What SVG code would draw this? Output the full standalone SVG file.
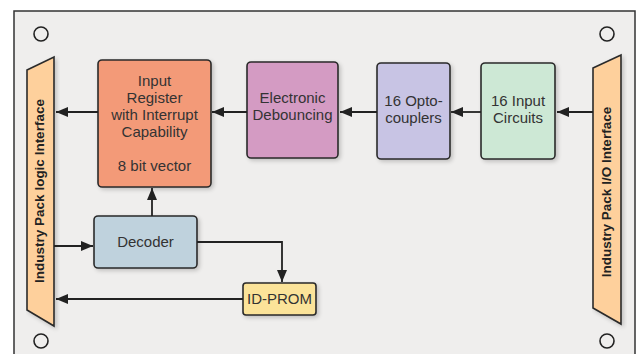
<svg xmlns="http://www.w3.org/2000/svg" width="640" height="354" viewBox="0 0 640 354">
<defs>
<marker id="ah" markerWidth="12" markerHeight="10" refX="12" refY="5" orient="auto" markerUnits="userSpaceOnUse">
<path d="M0,0 L12,5 L0,10 Z" fill="#222"/>
</marker>
<filter id="sh" x="-10%" y="-10%" width="130%" height="130%">
<feGaussianBlur in="SourceAlpha" stdDeviation="2"/>
<feOffset dx="2" dy="2"/>
<feComponentTransfer><feFuncA type="linear" slope="0.2"/></feComponentTransfer>
<feMerge><feMergeNode/><feMergeNode in="SourceGraphic"/></feMerge>
</filter>
</defs>
<style>
.box{stroke:#2a2a2a;stroke-width:1.6;filter:url(#sh)}
.t{font-family:"Liberation Sans",Arial,sans-serif;font-size:15px;fill:#333;text-anchor:middle}
.tb{font-family:"Liberation Sans",Arial,sans-serif;font-size:13.5px;font-weight:bold;fill:#222;text-anchor:middle}
.c{stroke:#222;stroke-width:1.8;fill:none;marker-end:url(#ah)}
.hole{fill:none;stroke:#222;stroke-width:1.6}
</style>
<rect x="0" y="0" width="640" height="354" fill="#ffffff"/>
<g id="board">
<rect x="14" y="11" width="621" height="350" fill="#efeeed" stroke="#333" stroke-width="1.5"/>
<circle class="hole" cx="41" cy="34" r="7"/>
<circle class="hole" cx="607" cy="34" r="7"/>
<circle class="hole" cx="41" cy="341" r="7"/>
<circle class="hole" cx="607" cy="341" r="7"/>
</g>
<g id="logic-interface">
<polygon class="box" points="27,70 54,57 54,326 27,310" fill="#fed09c"/>
<text class="tb" transform="translate(44,191) rotate(-90)">Industry Pack logic Interface</text>
</g>
<g id="io-interface">
<polygon class="box" points="593,68 621,55 621,324 593,308" fill="#fed09c"/>
<text class="tb" transform="translate(611,192) rotate(-90)">Industry Pack I/O Interface</text>
</g>
<g id="input-register">
<rect class="box" x="98" y="60" width="113" height="127" rx="4" fill="#f39a78"/>
<text class="t" x="154.5" y="86">Input</text>
<text class="t" x="154.5" y="103">Register</text>
<text class="t" x="154.5" y="120">with Interrupt</text>
<text class="t" x="154.5" y="137">Capability</text>
<text class="t" x="154.5" y="171">8 bit vector</text>
</g>
<g id="debouncing">
<rect class="box" x="247" y="62" width="91" height="96" rx="4" fill="#d49bc3"/>
<text class="t" x="292.5" y="103">Electronic</text>
<text class="t" x="292.5" y="120">Debouncing</text>
</g>
<g id="optocouplers">
<rect class="box" x="377" y="63" width="73" height="96" rx="4" fill="#c8c4e4"/>
<text class="t" x="413.5" y="106">16 Opto-</text>
<text class="t" x="413.5" y="123">couplers</text>
</g>
<g id="input-circuits">
<rect class="box" x="481" y="63" width="74" height="96" rx="4" fill="#cde8d5"/>
<text class="t" x="518" y="106">16 Input</text>
<text class="t" x="518" y="123">Circuits</text>
</g>
<g id="decoder">
<rect class="box" x="94" y="216" width="103" height="52" rx="4" fill="#bfd2dd"/>
<text class="t" x="145.5" y="247">Decoder</text>
</g>
<g id="id-prom">
<rect class="box" x="243" y="283" width="73" height="32" rx="3" fill="#fbe399"/>
<text class="t" x="279.5" y="304">ID-PROM</text>
</g>
<g id="connectors">
<line class="c" x1="593" y1="112" x2="557" y2="112"/>
<line class="c" x1="481" y1="112" x2="451" y2="112"/>
<line class="c" x1="377" y1="112" x2="340" y2="112"/>
<line class="c" x1="247" y1="112" x2="212" y2="112"/>
<line class="c" x1="98" y1="112" x2="56" y2="112"/>
<line class="c" x1="152" y1="216" x2="152" y2="188"/>
<line class="c" x1="54" y1="246" x2="93" y2="246"/>
<polyline class="c" points="197,242 282,242 282,282"/>
<line class="c" x1="243" y1="299" x2="56" y2="299"/>
</g>
</svg>
